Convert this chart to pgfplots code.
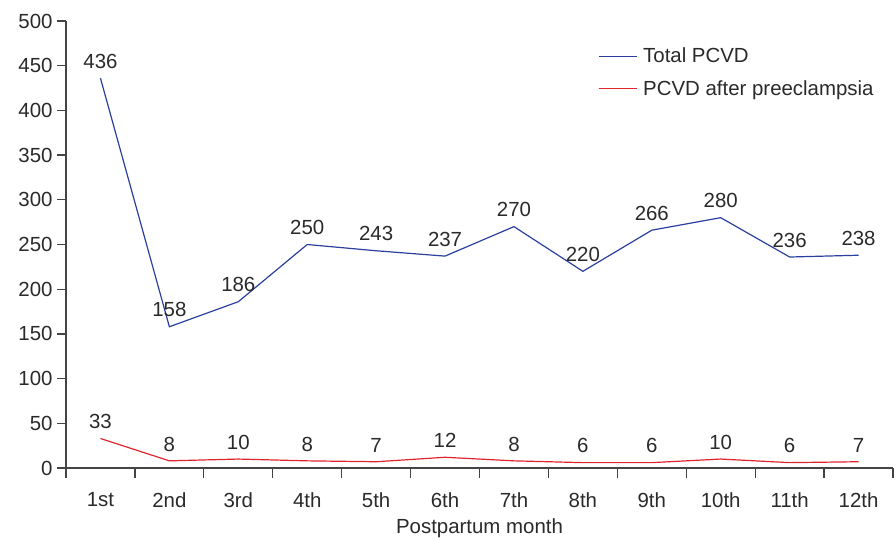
\documentclass[border=0pt]{standalone}
\usepackage{fontspec}
\setmainfont{Liberation Sans}
\usepackage{pgfplots}
\pgfplotsset{compat=1.18}
\definecolor{cblue}{HTML}{2B3F9E}
\definecolor{cred}{HTML}{E0242E}
\definecolor{ctext}{HTML}{2A2A2A}
\definecolor{caxis}{HTML}{444444}
\newcommand\fs{\fontsize{20.5}{23}\selectfont}
\begin{document}
\begin{tikzpicture}
\useasboundingbox (0bp,0bp) rectangle (894bp,540bp);
\begin{axis}[
  at={(66bp,72bp)}, anchor=south west,
  scale only axis, width=827bp, height=447bp,
  xmin=0.5, xmax=12.5, ymin=0, ymax=500,
  axis lines=left, clip=false,
  axis line style={draw=caxis, line width=1.3bp, -},
  xtick={1,...,12},
  xticklabels={1st,2nd,3rd,4th,5th,6th,7th,8th,9th,10th,11th,12th},
  ytick={0,50,...,500},
  tick align=outside,
  major x tick style={draw=none},
  major y tick style={draw=caxis, line width=1.3bp},
  major tick length=9bp,
  /pgf/number format/assume math mode=true,
  ticklabel style={font=\fs, text=ctext},
  xticklabel style={yshift=-12bp},
  yticklabel style={xshift=-1bp},
  xlabel={Postpartum month},
  xlabel style={font=\fs, text=ctext, yshift=-4bp},
  legend style={at={(0.643,0.94)}, anchor=north west, draw=none, fill=none,
    font=\fs, text=ctext, row sep=16bp, inner sep=0pt,
    nodes={inner xsep=6bp, inner ysep=0pt}},
  legend cell align=left,
  legend image code/.code={\draw[#1] (0bp,0bp) -- (38bp,0bp);},
  nodes near coords,
  point meta=explicit symbolic,
  every node near coord/.append style={font=\fs, text=ctext, anchor=south, inner sep=0pt, yshift=9bp},
]
\addplot[draw=cblue, line width=1.2bp] table[meta=l] {
x y l
1 436 436
2 158 158
3 186 186
4 250 250
5 243 243
6 237 237
7 270 270
8 220 220
9 266 266
10 280 280
11 236 236
12 238 238
};
\addlegendentry{Total PCVD}
\addplot[draw=cred, line width=1.2bp] table[meta=l] {
x y l
1 33 33
2 8 8
3 10 10
4 8 8
5 7 7
6 12 12
7 8 8
8 6 6
9 6 6
10 10 10
11 6 6
12 7 7
};
\addlegendentry{PCVD after preeclampsia}
\pgfplotsinvokeforeach{0.5,1.5,...,12.5}{
  \draw[caxis, line width=1.3bp] (axis cs:#1,0) -- ++(0bp,-10bp);
}
\pgfplotsinvokeforeach{0,50,...,500}{
  \draw[caxis, line width=1.3bp] (axis cs:0.5,#1) -- ++(-8bp,0bp);
}
\end{axis}
\end{tikzpicture}
\end{document}
